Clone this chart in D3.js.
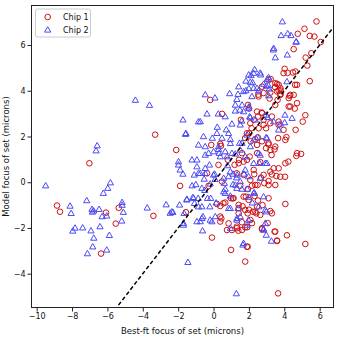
<!DOCTYPE html>
<html>
<head>
<meta charset="utf-8">
<script src="https://cdn.jsdelivr.net/npm/d3@7"></script>
<style>
  body { margin: 0; background: #fff; }
  svg { display: block; font-family: "DejaVu Sans", sans-serif; }
</style>
</head>
<body>
<svg width="340" height="340"></svg>
<script>
// [x, y] pairs (microns)
var chip1 = [
  [-8.85,-1.02],[-8.68,-1.29],[-6.08,-1.33],[-5.36,-1.12],[-5.53,-1.81],[-6.36,-3.12],[-3.40,-1.47],
  [-7.02,0.83],[-3.30,2.08],[-2.11,1.41],[-1.89,-0.16],
  [5.82,7.03],[5.14,6.71],[4.76,6.49],[5.44,6.40],[5.70,6.37],[6.06,6.13],[4.53,5.82],[5.53,5.64],
  [5.21,5.45],[5.30,5.10],[4.02,4.96],[3.96,4.77],[4.19,4.78],[4.49,4.80],[4.63,4.84],[3.23,4.51],
  [3.11,4.48],[5.44,4.42],[4.61,4.26],[4.72,4.26],[3.59,4.30],[3.48,4.16],[3.49,4.33],[3.68,4.26],
  [3.68,4.01],[3.80,4.01],[3.78,4.11],[3.78,3.86],[3.21,3.92],[2.74,4.18],[2.53,3.83],[2.55,3.75],
  [2.83,3.90],[3.17,3.66],[3.59,3.97],[3.78,3.82],[4.30,3.78],[4.53,3.82],[4.34,3.82],[4.25,3.68],
  [3.62,3.60],[-0.19,3.60],[1.95,3.38],[2.00,3.22],[4.25,3.31],[4.59,3.22],[4.72,3.46],[4.34,3.31],
  [3.49,3.38],[2.72,3.05],[2.46,3.09],[2.74,3.02],[3.30,2.87],[0.48,2.99],[2.51,2.87],[5.19,2.93],
  [1.55,2.73],[2.27,2.73],[5.04,2.65],[2.83,2.73],[3.21,2.58],[3.68,2.65],[2.97,2.36],[2.02,2.14],
  [2.50,1.96],[2.36,1.88],[3.65,1.93],[4.12,1.97],[4.64,2.29],[2.15,2.36],[2.08,2.58],[2.55,2.36],
  [2.83,2.51],[3.68,2.51],[3.96,2.29],[4.06,1.85],[3.11,1.71],[3.49,1.56],[3.21,1.41],[-0.13,1.63],
  [0.42,1.59],[2.10,1.79],[2.74,1.79],[3.11,1.65],[3.45,1.44],[2.97,1.49],[2.46,1.27],[3.28,1.19],
  [4.68,1.15],[4.95,1.24],[4.72,1.27],[2.04,1.12],[1.44,0.98],[1.70,0.90],[0.28,0.76],[2.64,0.88],
  [4.06,0.83],[4.23,0.90],[3.68,0.61],[3.40,0.61],[3.21,0.46],[2.83,0.32],[2.27,0.54],[2.08,0.10],
  [1.70,0.32],[1.32,0.39],[1.42,0.83],[1.89,0.98],[1.61,1.27],[1.79,1.93],[1.89,2.14],[2.46,1.63],
  [0.38,1.68],[0.81,0.98],[1.19,0.76],[-0.37,0.39],[0.48,0.03],[-0.28,-0.16],
  [-1.56,-1.31],[-0.09,-2.42],[0.99,-2.96],[1.79,-3.47],[1.93,-2.82],[3.65,-4.86],[5.19,-2.70],
  [3.59,-2.55],[4.15,-2.32],[3.45,-2.16],[4.06,-0.95],[3.30,-1.36],[2.74,-2.06],[3.06,-1.79],
  [0.76,-2.09],[1.04,-2.09],[1.40,-2.12],[1.79,-1.97],[1.90,-1.97],[0.85,-1.80],[1.60,-1.75],
  [0.66,-0.89],[0.99,-0.70],[0.38,-1.50],[0.38,-1.72],[0.19,-0.95],[0.56,-0.92],[1.42,-0.99],
  [1.64,-1.05],[1.42,-1.36],[1.93,-1.36],[2.08,-1.65],[2.23,-1.29],[2.46,-1.07],[2.77,-1.00],
  [2.00,-1.20],[2.51,-0.80],[2.32,-0.60],[1.83,-0.63],[1.94,-0.30],[2.17,-0.15],[2.49,-0.12],
  [2.87,-0.04],[3.11,0.05],[3.30,0.34],[3.55,0.27],[3.77,0.24],[4.04,0.24],[3.49,-0.12],[2.68,0.20],
  [2.30,0.35],[1.51,-0.15],[1.09,-0.70],[2.42,-1.36],[0.38,-1.04],[0.44,-1.58],[1.32,-2.01],
  [1.13,-0.70],[1.70,-0.63],[1.98,-0.77],[3.11,-0.70],[1.42,-1.14],[1.79,-1.21],[2.36,-1.29],
  [2.64,-1.43],[3.21,-1.26],[1.32,-1.94],[1.61,-2.09],[2.17,-1.79],[2.74,-2.01],[3.49,-2.16],
  [3.59,-2.57],[1.89,-2.82],[2.36,-0.12],[3.11,-0.12]
];

var chip2 = [
  [-9.49,-0.15],[-8.11,-1.04],[-8.05,-1.36],[-7.96,-2.13],[-7.83,-2.00],[-7.40,-1.99],[-7.17,-0.80],
  [-6.87,-1.18],[-6.85,-1.30],[-6.78,-1.25],[-6.93,-2.12],[-6.77,-2.44],[-6.83,-2.82],[-7.13,-3.12],
  [-6.47,-1.18],[-6.30,-1.50],[-6.42,-1.94],[-6.23,-0.48],[-5.98,-0.26],[-5.83,-0.02],[-6.04,-1.47],
  [-5.89,-2.32],[-6.04,-2.96],[-5.17,-0.88],[-5.17,-1.00],[-5.10,-1.31],[-5.19,-1.69],[-3.75,-1.12],
  [-2.68,-0.98],[-2.45,-1.35],[-2.36,-1.29],[-1.92,-0.99],[-6.58,1.60],[-6.64,1.38],[-4.42,3.59],
  [-3.62,3.37],[-1.98,0.90],[-1.98,0.76],
  [3.89,7.02],[3.82,6.42],[4.19,6.50],[4.38,6.42],[4.66,6.13],[3.38,5.79],[3.49,5.45],[4.17,5.57],
  [2.32,4.93],[2.64,4.78],[2.66,4.70],[2.12,4.67],[2.21,4.36],[3.04,4.51],[2.00,4.10],[2.46,4.11],
  [2.98,4.21],[3.15,4.08],[4.15,4.40],[1.70,3.97],[1.83,4.01],[0.91,3.88],[1.38,3.85],[1.32,3.63],
  [-0.47,3.83],[0.08,3.69],[1.23,3.38],[1.49,3.16],[2.00,3.30],[1.23,3.12],[0.27,2.99],[0.66,2.87],
  [-0.37,2.99],[-0.85,2.65],[-1.73,2.73],[-1.58,2.10],[1.04,2.55],[1.59,2.68],[2.04,2.87],[3.06,2.84],
  [4.04,2.94],[3.78,2.55],[3.68,2.29],[-0.57,2.00],[0.72,2.30],[0.21,2.41],[-0.07,1.93],[0.48,1.93],
  [0.95,1.88],[0.95,1.70],[1.47,1.71],[1.89,2.07],[2.49,1.97],[2.97,1.95],[0.28,1.56],[0.32,1.27],
  [-0.47,1.19],[-0.94,0.98],[-0.23,0.76],[0.38,1.12],[0.79,0.73],[2.08,1.56],[2.64,1.19],[3.02,0.83],
  [2.60,0.83],[1.79,1.12],[1.23,1.24],[2.27,4.77],[1.99,4.70],[3.11,4.58],[1.83,4.43],[2.08,4.38],
  [2.83,4.29],[3.11,4.23],[1.42,4.18],[2.27,4.11],[2.55,4.00],[2.17,3.75],[3.11,3.79],[1.61,3.38],
  [1.99,3.24],[1.70,3.09],[2.08,2.83],[2.36,2.73],[2.97,2.94],[4.44,2.80],[3.40,2.65],[-0.75,2.65],
  [-1.56,2.14],[0.19,2.14],[0.85,2.14],[-0.85,1.63],[-0.47,1.56],[-0.28,1.27],[0.00,1.34],[0.28,1.44],
  [0.66,1.34],[0.76,1.12],[1.04,1.27],[-1.89,0.54],[-1.22,0.98],[-0.94,0.68],[-0.85,0.39],[-0.47,0.61],
  [0.00,0.32],[0.09,0.13],[0.57,0.18],[0.85,0.25],[0.95,0.46],[1.51,2.51],[1.61,1.71],[1.51,1.41],
  [2.27,1.85],[3.02,1.93],[2.55,1.27],[2.93,0.83],[2.27,0.83],[1.79,0.54],[1.98,0.25],[1.51,0.03],
  [2.64,0.18],[4.02,2.61],[4.68,6.15],[3.40,5.86],
  [-1.73,0.36],[-1.09,0.32],[-0.75,0.39],[-0.47,0.39],[0.06,0.36],[1.10,0.36],[1.33,0.32],[1.72,0.36],
  [-0.53,0.14],[-1.21,-0.15],[-1.00,-0.10],[-0.66,-0.26],[-0.19,-0.07],[0.61,-0.04],[1.23,-0.12],
  [1.30,0.20],[-0.50,-0.35],[-1.51,-0.74],[-1.17,-0.66],[-0.87,-0.70],[-0.34,-0.70],[-0.16,-0.70],
  [-1.08,-0.92],[-0.66,-1.07],[-0.21,-1.07],[0.15,-0.90],[0.66,-0.48],[0.66,-0.30],[0.95,-0.60],
  [1.10,-0.10],[1.60,-0.30],[2.00,-0.65],[2.30,-0.45],[0.95,-1.14],[1.39,-1.14],[1.32,-1.65],
  [-2.30,-1.31],[-1.66,-1.36],[-1.70,-1.79],[-0.94,-1.72],[-0.75,-1.72],[-0.60,-1.50],[-0.62,-2.12],
  [-0.09,-1.72],[0.95,-2.01],[2.98,-1.29],[2.93,-1.79],[2.83,-2.05],[2.98,-2.31],[3.27,-2.57],
  [1.66,-2.74],[-1.45,-3.50],[1.29,-4.87],[1.90,-0.30],[2.20,-0.90],[-1.51,-0.77],[-1.13,-0.70],
  [-0.85,-1.07],[-1.70,-1.87],[-0.66,-1.58],[-0.19,-1.65],[0.10,-1.50],[0.85,-1.14],[1.32,-1.58],
  [0.57,-0.41],[1.32,-0.26],[2.27,-0.48],[2.83,-0.63],[2.55,-1.07],[2.93,-1.21],[1.51,-1.50],
  [1.98,-1.65],[1.89,-1.87],[2.83,-2.09],[1.70,-2.67]
];

var xTicks = [-10, -8, -6, -4, -2, 0, 2, 4, 6];
var yTicks = [-4, -2, 0, 2, 4, 6];
var seriesNames = ["Chip 1", "Chip 2"];

var svg = d3.select("svg");
var margin = { top: 5, right: 6, bottom: 32, left: 31 };
var width = 340, height = 340;

var x = d3.scaleLinear().domain([-10.32, 6.81]).range([margin.left, width - margin.right]);
var y = d3.scaleLinear().domain([-5.5, 7.75]).range([height - margin.bottom, margin.top]);

var red = "#d01010", blue = "#4a4af5";

svg.append("clipPath").attr("id", "clip")
  .append("rect")
  .attr("x", margin.left).attr("y", margin.top)
  .attr("width", x.range()[1] - x.range()[0])
  .attr("height", y.range()[0] - y.range()[1]);

var plot = svg.append("g").attr("clip-path", "url(#clip)");

plot.selectAll("circle.c1")
  .data(chip1)
  .enter().append("circle")
  .attr("class", "c1")
  .attr("cx", function(d) { return x(d[0]); })
  .attr("cy", function(d) { return y(d[1]); })
  .attr("r", 2.8)
  .attr("fill", "none")
  .attr("stroke", red)
  .attr("stroke-width", 1);

var tri = d3.symbol().type(d3.symbolTriangle).size(17);

plot.selectAll("path.c2")
  .data(chip2)
  .enter().append("path")
  .attr("class", "c2")
  .attr("d", tri)
  .attr("transform", function(d) { return "translate(" + x(d[0]) + "," + (y(d[1]) + 0.4) + ")"; })
  .attr("fill", "none")
  .attr("stroke", blue)
  .attr("stroke-width", 1);

// one-to-one line
var lineDomain = [-5.6, 6.9];
plot.append("line")
  .attr("x1", x(lineDomain[0])).attr("y1", y(lineDomain[0]))
  .attr("x2", x(lineDomain[1])).attr("y2", y(lineDomain[1]))
  .attr("stroke", "#000")
  .attr("stroke-width", 1.5)
  .attr("stroke-dasharray", "4,2.5");

// axes
var xAxis = d3.axisBottom(x).tickValues(xTicks).tickSize(3.5).tickPadding(2);
var yAxis = d3.axisLeft(y).tickValues(yTicks).tickSize(3.5).tickPadding(2);

var gx = svg.append("g")
  .attr("transform", "translate(0," + (height - margin.bottom) + ")")
  .call(xAxis);
var gy = svg.append("g")
  .attr("transform", "translate(" + margin.left + ",0)")
  .call(yAxis);

[gx, gy].forEach(function(g) {
  g.select(".domain").remove();
  g.selectAll("text").attr("font-size", 8).attr("font-family", "DejaVu Sans").attr("fill", "#111");
  g.selectAll("line").attr("stroke", "#222");
});

// frame
svg.append("rect")
  .attr("x", margin.left + 0.5).attr("y", margin.top + 0.5)
  .attr("width", x.range()[1] - x.range()[0] - 1)
  .attr("height", y.range()[0] - y.range()[1] - 1)
  .attr("fill", "none")
  .attr("stroke", "#222")
  .attr("stroke-width", 1);

svg.append("text")
  .attr("x", (x.range()[0] + x.range()[1]) / 2)
  .attr("y", 334)
  .attr("text-anchor", "middle")
  .attr("font-size", 8.5)
  .attr("fill", "#111")
  .text("Best-ft focus of set (microns)");

svg.append("text")
  .attr("transform", "translate(9," + ((y.range()[0] + y.range()[1]) / 2) + ") rotate(-90)")
  .attr("text-anchor", "middle")
  .attr("font-size", 8.5)
  .attr("fill", "#111")
  .text("Model focus of set (microns)");

// legend
var legend = svg.append("g");
legend.append("rect")
  .attr("x", 35.5).attr("y", 9)
  .attr("width", 55).attr("height", 28)
  .attr("rx", 2)
  .attr("fill", "#fff")
  .attr("stroke", "#ccc");

legend.append("circle")
  .attr("cx", 47.7).attr("cy", 17)
  .attr("r", 2.8)
  .attr("fill", "none").attr("stroke", red);
legend.append("path")
  .attr("d", tri)
  .attr("transform", "translate(47.7,30.3)")
  .attr("fill", "none").attr("stroke", blue);

legend.selectAll("text")
  .data(seriesNames)
  .enter().append("text")
  .attr("x", 63)
  .attr("y", function(d, i) { return 20 + i * 13.3; })
  .attr("font-size", 8)
  .attr("fill", "#111")
  .text(function(d) { return d; });
</script>
</body>
</html>
